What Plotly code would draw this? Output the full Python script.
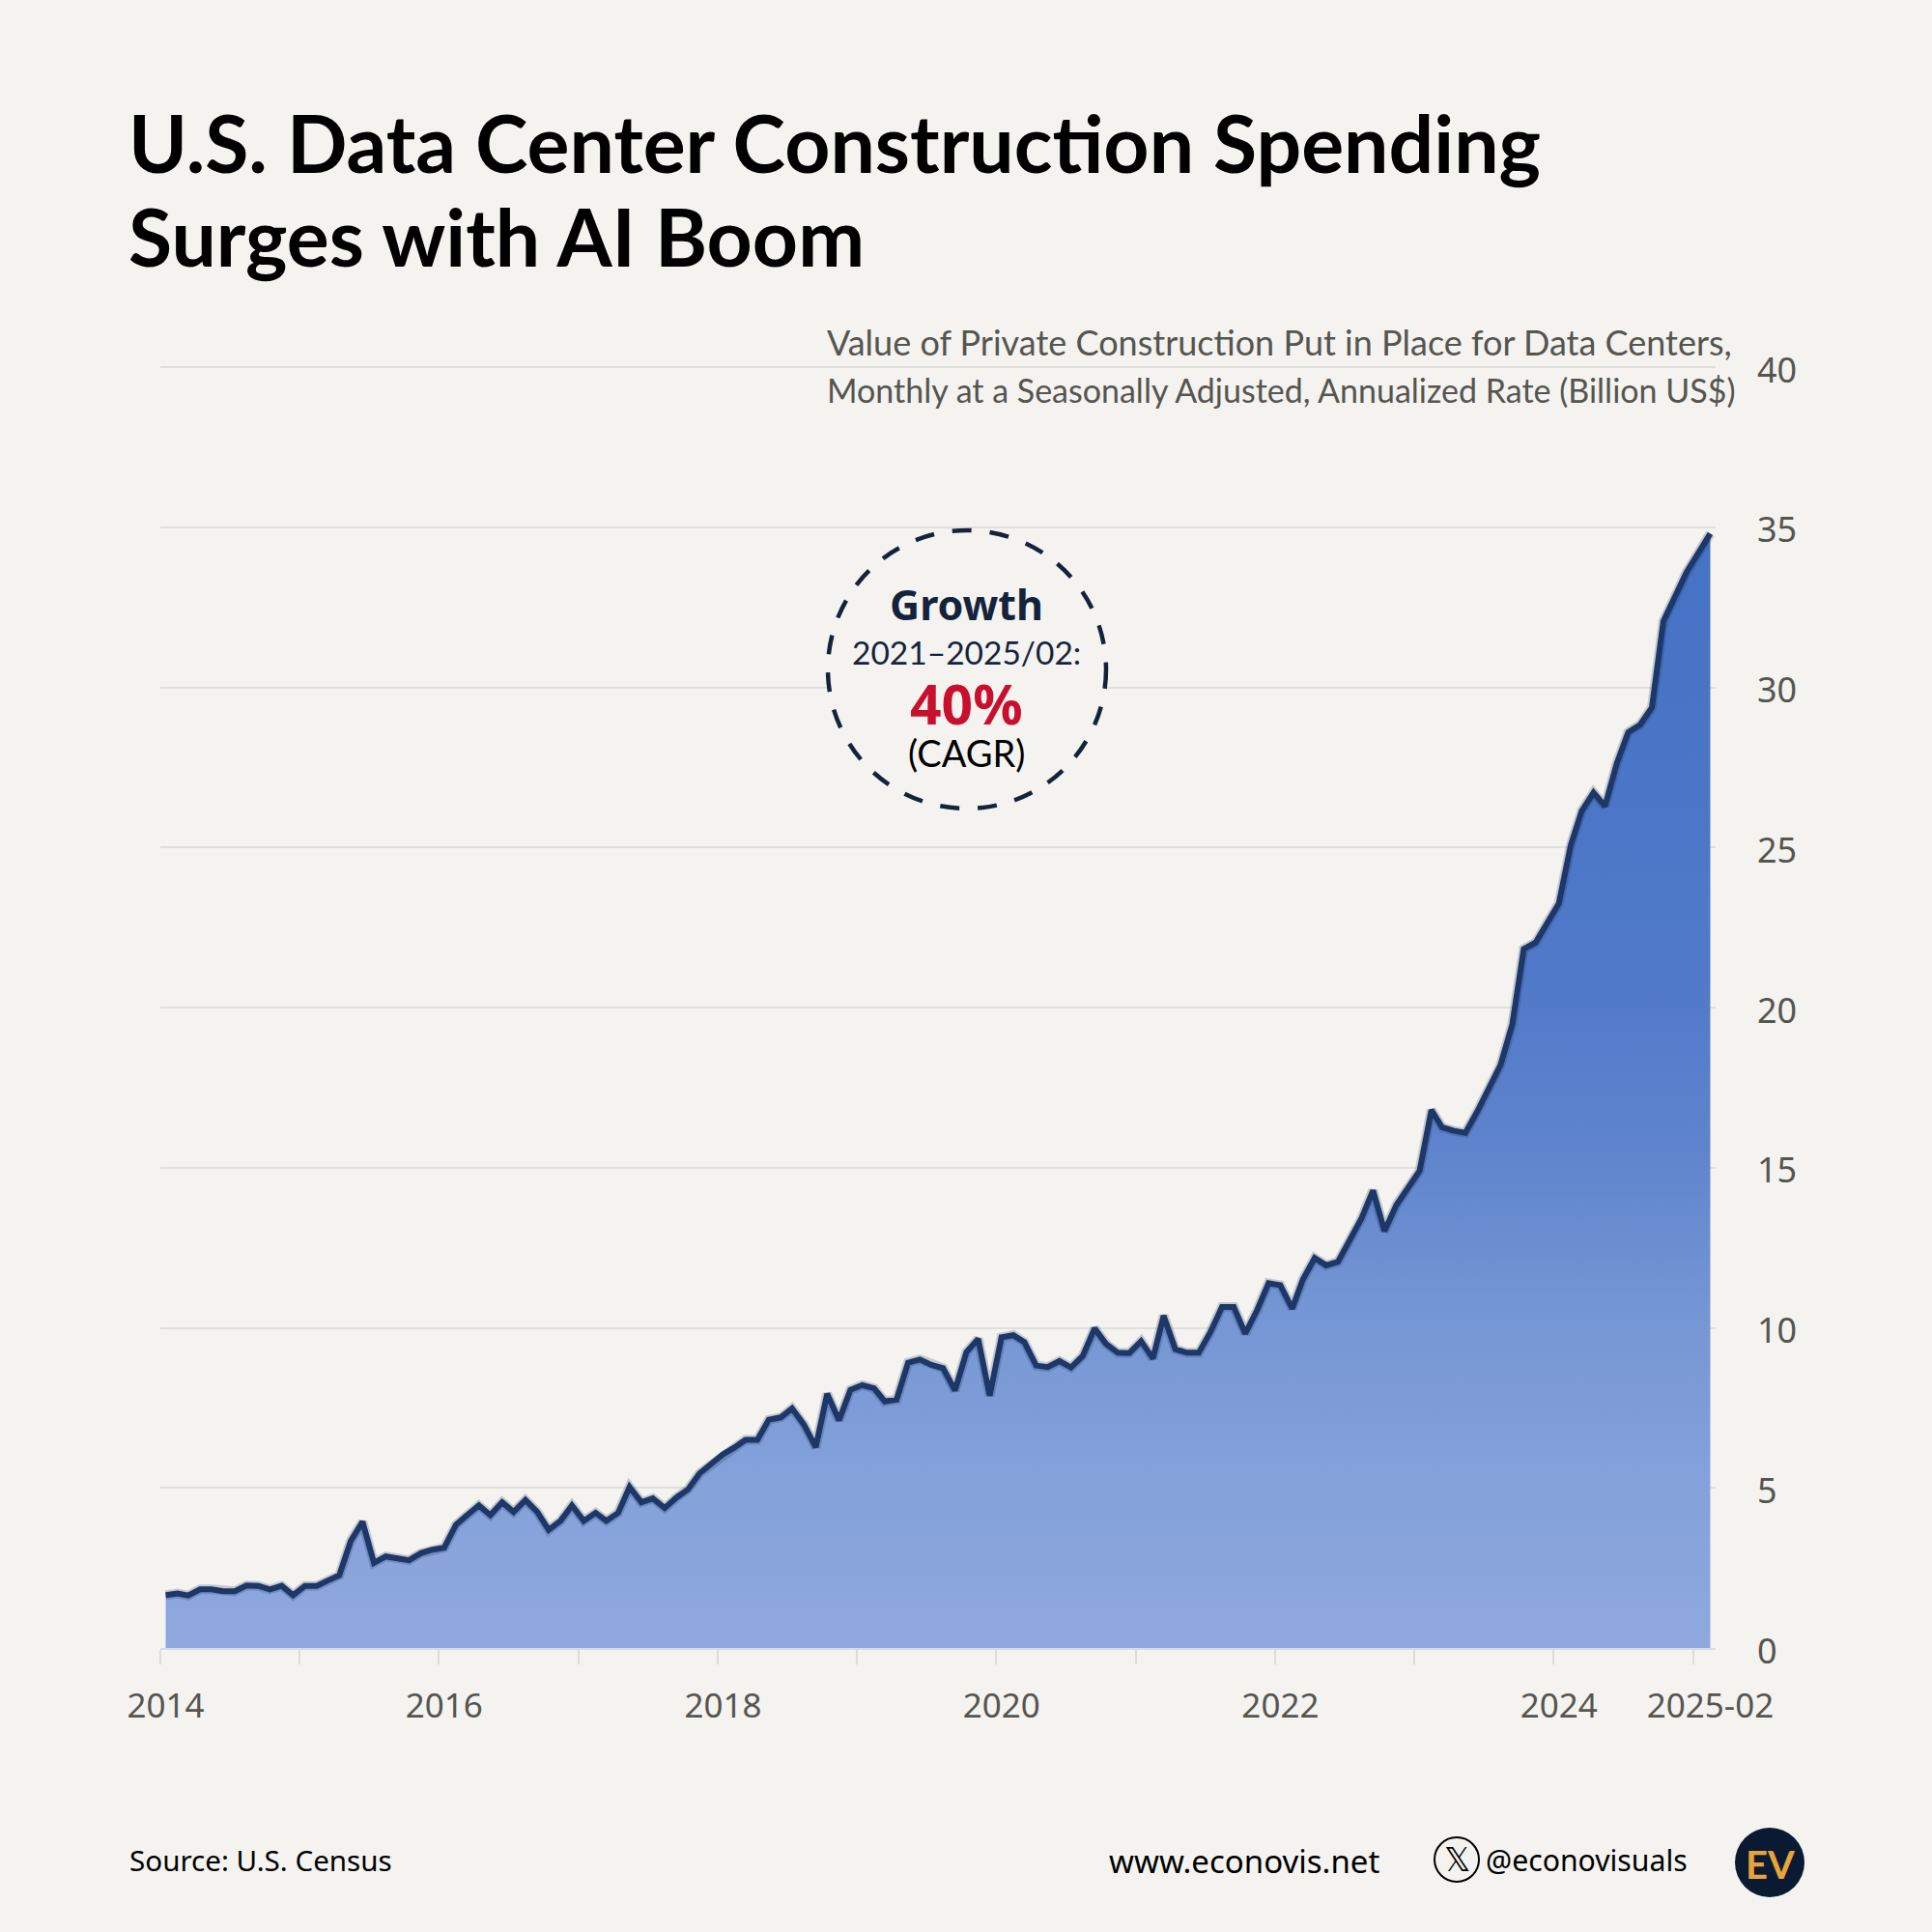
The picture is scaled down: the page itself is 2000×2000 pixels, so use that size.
"""U.S. data center construction spending, monthly, Jan 2014 to Feb 2025."""

import pandas as pd
import plotly.graph_objects as go

# Billion US$, seasonally adjusted annualized rate, one value per month.
SPENDING = [
    1.65, 1.70, 1.64, 1.83, 1.83, 1.77, 1.77, 1.95, 1.94, 1.83, 1.94, 1.65,
    1.94, 1.94, 2.10, 2.27, 3.34, 3.94, 2.66, 2.86, 2.80, 2.74, 2.96, 3.07,
    3.13, 3.85, 4.15, 4.45, 4.15, 4.55, 4.25, 4.62, 4.25, 3.69, 3.97, 4.45,
    3.97, 4.22, 3.97, 4.22, 5.03, 4.55, 4.67, 4.37, 4.70, 4.95, 5.46, 5.73,
    6.05, 6.27, 6.50, 6.50, 7.13, 7.20, 7.48, 6.98, 6.27, 7.94, 7.11, 8.06,
    8.21, 8.11, 7.70, 7.76, 8.91, 9.01, 8.84, 8.74, 8.04, 9.24, 9.65, 7.88,
    9.70, 9.77, 9.55, 8.82, 8.77, 8.96, 8.76, 9.12, 9.98, 9.50, 9.22, 9.21,
    9.58, 9.04, 10.38, 9.33, 9.22, 9.22, 9.85, 10.65, 10.65, 9.82, 10.55, 11.39,
    11.33, 10.60, 11.51, 12.18, 11.95, 12.06, 12.72, 13.40, 14.29, 13.02, 13.83, 14.37,
    14.90, 16.80, 16.26, 16.15, 16.09, 16.75, 17.48, 18.20, 19.48, 21.83, 22.03, 22.63,
    23.25, 25.06, 26.14, 26.71, 26.29, 27.63, 28.60, 28.83, 29.37, 32.06, 32.86, 33.60,
    34.20, 34.80,
]
MONTHS = pd.date_range("2014-01-01", periods=len(SPENDING), freq="MS") + pd.Timedelta(days=14)
X_TICK_DATES = ["2014-01-15", "2016-01-15", "2018-01-15", "2020-01-15", "2022-01-15", "2024-01-15", "2025-02-15"]
X_TICK_LABELS = ["2014", "2016", "2018", "2020", "2022", "2024", "2025-02"]
YEAR_STARTS = [f"{year}-01-01" for year in range(2014, 2026)]
Y_TICKS = [0, 5, 10, 15, 20, 25, 30, 35, 40]
# Axis runs slightly past 40 so plotly still draws the top gridline.
Y_MAX = 40.2

BACKGROUND = "#f4f3f0"
NAVY = "#14233c"
GREY = "#555550"
FONT = "Noto Sans"
NARROW = "Lato"
SIZE = 2000
FILL_STOPS = [
    [0, "#8fa9de"], [0.15, "#84a1da"], [0.3, "#7596d4"],
    [0.45, "#5f84cd"], [0.6, "#5079c9"], [1, "#4472c4"],
]


def px(x):
    return x / SIZE


def py(y):
    return 1 - y / SIZE


def label(fig, x, y, text, size, color="#000000", family=FONT, anchor="left", bold=False):
    fig.add_annotation(
        x=px(x), y=py(y), xref="paper", yref="paper",
        text=f"<b>{text}</b>" if bold else text,
        showarrow=False, xanchor=anchor, yanchor="middle",
        font=dict(family=family, size=size, color=color),
    )


fig = go.Figure()
fig.add_trace(go.Scatter(
    x=MONTHS, y=SPENDING, mode="lines", fill="tozeroy",
    line=dict(color="rgba(30,50,90,0.22)", width=10),
    fillgradient=dict(type="vertical", colorscale=FILL_STOPS),
    hoverinfo="skip",
))
fig.add_trace(go.Scatter(
    x=MONTHS, y=SPENDING, mode="lines",
    line=dict(color="#1c3768", width=6),
))

fig.update_layout(
    width=SIZE, height=SIZE,
    margin=dict(l=0, r=0, t=0, b=0, autoexpand=False),
    paper_bgcolor=BACKGROUND, plot_bgcolor=BACKGROUND,
    showlegend=False,
    xaxis=dict(
        domain=[px(166), px(1776)],
        type="date", automargin=False,
        range=["2014-01-01", "2025-03-01"],
        tickmode="array", tickvals=X_TICK_DATES, ticktext=X_TICK_LABELS,
        ticks="", showgrid=False, zeroline=False,
        showline=True, linecolor="#d6dcec", linewidth=2,
        ticklabelstandoff=28,
        tickfont=dict(family=FONT, size=35, color=GREY),
        minor=dict(tickmode="array", tickvals=YEAR_STARTS, ticks="outside",
                   ticklen=15, tickwidth=2, tickcolor="#dcdcd8", showgrid=False),
    ),
    yaxis=dict(
        domain=[py(1706), py(1706 - Y_MAX * 33.15)],
        range=[0, Y_MAX], side="right", automargin=False,
        tickmode="array", tickvals=Y_TICKS,
        ticks="", showgrid=True, gridcolor="#dfdfdb", gridwidth=2, zeroline=False,
        ticklabelstandoff=42, ticklabelshift=3,
        tickfont=dict(family=FONT, size=36, color=GREY),
    ),
)

# Callout circle sits over the gridlines, so it is filled with the background.
fig.add_shape(
    type="circle", xref="paper", yref="paper",
    x0=px(857), x1=px(1145), y0=py(837), y1=py(549),
    line=dict(color=NAVY, width=4.5, dash="20px,19px"),
    fillcolor=BACKGROUND,
)
label(fig, 1001, 626, "Growth", 43, NAVY, anchor="center", bold=True)
label(fig, 1001, 675, "2021–2025/02:", 33.5, NAVY, NARROW, anchor="center")
label(fig, 1001, 728, "40%", 57, "#c8102e", anchor="center", bold=True)
label(fig, 1001, 779, "(CAGR)", 38, "#000000", NARROW, anchor="center")

label(fig, 131, 148, "U.S. Data Center Construction Spending", 82.3, family="Lato", bold=True)
label(fig, 131, 244, "Surges with AI Boom", 82.3, family="Lato", bold=True)
label(fig, 854, 354, "Value of Private Construction Put in Place for Data Centers,", 36, GREY, NARROW)
label(fig, 854, 404, "Monthly at a Seasonally Adjusted, Annualized Rate (Billion US$)", 34, GREY, NARROW)

label(fig, 132, 1925, "Source: U.S. Census", 29.6)
label(fig, 1146, 1926, "www.econovis.net", 33)
label(fig, 1536, 1925, "@econovisuals", 30.2)
fig.add_shape(
    type="circle", xref="paper", yref="paper",
    x0=px(1485), x1=px(1531), y0=py(1948), y1=py(1902),
    line=dict(color="#000000", width=2),
)
label(fig, 1508, 1925, "𝕏", 34, family="DejaVu Sans", anchor="center")
fig.add_shape(
    type="circle", xref="paper", yref="paper",
    x0=px(1796), x1=px(1868), y0=py(1964), y1=py(1892),
    line=dict(width=0), fillcolor="#0a1a33",
)
label(fig, 1832, 1930, "EV", 40, "#e8a33a", NARROW, anchor="center", bold=True)

fig.write_html("out.html", config={"displayModeBar": False},
               post_script="document.body.style.margin = '0';")
